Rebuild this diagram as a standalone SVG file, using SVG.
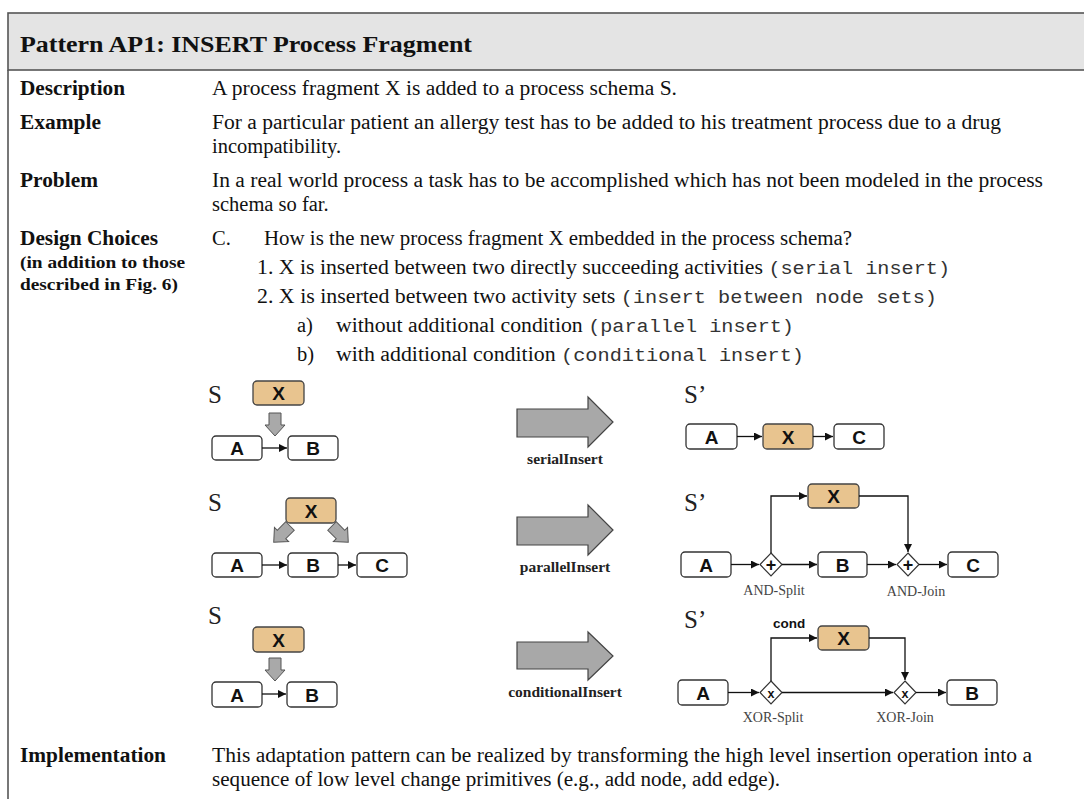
<svg xmlns="http://www.w3.org/2000/svg" width="1084" height="799" viewBox="0 0 1084 799">
<style>
.body{font-family:"Liberation Serif","Times New Roman",serif;font-size:20.5px;fill:#111}
.lbl{font-family:"Liberation Serif","Times New Roman",serif;font-size:20.5px;font-weight:bold;fill:#111}
.lbls{font-family:"Liberation Serif","Times New Roman",serif;font-size:17px;font-weight:bold;fill:#111}
.mono{font-family:"Liberation Mono","Courier New",monospace;font-size:19px;fill:#333}
.box{fill:#fff;stroke:#333;stroke-width:1.3}
.xbox{fill:#E8C48F;stroke:#444;stroke-width:1.3}
.nt{font-family:"Liberation Sans",Arial,sans-serif;font-size:19px;font-weight:bold;fill:#111;text-anchor:middle}
.s{font-family:"Liberation Serif","Times New Roman",serif;font-size:25px;fill:#222}
.garrow{fill:#A9A9A9;stroke:#555;stroke-width:1}
.big{fill:#A8A8A8;stroke:#444;stroke-width:1.2}
.op{font-family:"Liberation Serif","Times New Roman",serif;font-size:15.5px;font-weight:bold;fill:#222;text-anchor:middle}
.gw{fill:#fff;stroke:#333;stroke-width:1.2}
.gwt{font-family:"Liberation Sans",Arial,sans-serif;font-weight:bold;fill:#111;text-anchor:middle}
.gl{font-family:"Liberation Serif","Times New Roman",serif;font-size:14px;fill:#444;text-anchor:middle}
.edge{fill:none;stroke:#111;stroke-width:1.3;marker-end:url(#ah)}
</style>
<defs>
<marker id="ah" markerUnits="userSpaceOnUse" markerWidth="9" markerHeight="8" refX="8" refY="4" orient="auto">
<path d="M0,0 L8,4 L0,8 Z" fill="#111"/>
</marker>
<path id="blk" d="M-6,0 L6,0 L6,12 L10,12 L0,23 L-10,12 L-6,12 Z"/>
</defs>

<g id="frame">
<rect x="8" y="13" width="1090" height="57" fill="#E4E4E4" stroke="#555" stroke-width="1.6"/>
<line x1="8" y1="70" x2="8" y2="799" stroke="#555" stroke-width="1.6"/>
<text x="20" y="52" font-family="Liberation Serif,Times New Roman,serif" font-size="24px" font-weight="bold" fill="#111" textLength="452" lengthAdjust="spacingAndGlyphs">Pattern AP1: INSERT Process Fragment</text>
</g>

<g id="text">
<text class="lbl" x="20" y="95" textLength="105" lengthAdjust="spacingAndGlyphs">Description</text>
<text class="body" x="212" y="95" textLength="465" lengthAdjust="spacingAndGlyphs">A process fragment X is added to a process schema S.</text>
<text class="lbl" x="20" y="129" textLength="81" lengthAdjust="spacingAndGlyphs">Example</text>
<text class="body" x="212" y="129" textLength="789" lengthAdjust="spacingAndGlyphs">For a particular patient an allergy test has to be added to his treatment process due to a drug</text>
<text class="body" x="212" y="153">incompatibility.</text>
<text class="lbl" x="20" y="187" textLength="78" lengthAdjust="spacingAndGlyphs">Problem</text>
<text class="body" x="212" y="187" textLength="831" lengthAdjust="spacingAndGlyphs">In a real world process a task has to be accomplished which has not been modeled in the process</text>
<text class="body" x="212" y="211">schema so far.</text>
<text class="lbl" x="20" y="245" textLength="138" lengthAdjust="spacingAndGlyphs">Design Choices</text>
<text class="lbls" x="20" y="268" textLength="165" lengthAdjust="spacingAndGlyphs">(in addition to those</text>
<text class="lbls" x="20" y="290" textLength="158" lengthAdjust="spacingAndGlyphs">described in Fig. 6)</text>
<text class="body" x="212" y="245">C.</text>
<text class="body" x="264" y="245" textLength="588" lengthAdjust="spacingAndGlyphs">How is the new process fragment X embedded in the process schema?</text>
<text class="body" x="257" y="274" textLength="693" lengthAdjust="spacingAndGlyphs">1. X is inserted between two directly succeeding activities <tspan class="mono">(serial insert)</tspan></text>
<text class="body" x="257" y="303" textLength="680" lengthAdjust="spacingAndGlyphs">2. X is inserted between two activity sets <tspan class="mono">(insert between node sets)</tspan></text>
<text class="body" x="297" y="332">a)</text>
<text class="body" x="336" y="332" textLength="458" lengthAdjust="spacingAndGlyphs">without additional condition <tspan class="mono">(parallel insert)</tspan></text>
<text class="body" x="297" y="361">b)</text>
<text class="body" x="336" y="361" textLength="468" lengthAdjust="spacingAndGlyphs">with additional condition <tspan class="mono">(conditional insert)</tspan></text>
<text class="lbl" x="20" y="762" textLength="146" lengthAdjust="spacingAndGlyphs">Implementation</text>
<text class="body" x="212" y="762" textLength="820" lengthAdjust="spacingAndGlyphs">This adaptation pattern can be realized by transforming the high level insertion operation into a</text>
<text class="body" x="212" y="786" textLength="568" lengthAdjust="spacingAndGlyphs">sequence of low level change primitives (e.g., add node, add edge).</text>
</g>

<!-- Row 1 left: serial insert source -->
<g id="r1-left">
<text class="s" x="208" y="403">S</text>
<g id="r1l-X"><rect class="xbox" x="253" y="381" width="51" height="24" rx="4"/><text class="nt" x="278.5" y="400">X</text></g>
<use href="#blk" class="garrow" transform="translate(275,413)"/>
<g id="r1l-A"><rect class="box" x="212" y="436" width="50" height="24" rx="4"/><text class="nt" x="237" y="455">A</text></g>
<g id="r1l-B"><rect class="box" x="288" y="436" width="50" height="24" rx="4"/><text class="nt" x="313" y="455">B</text></g>
</g>

<!-- Row 2 left: parallel insert source -->
<g id="r2-left">
<text class="s" x="208" y="511">S</text>
<g id="r2l-X"><rect class="xbox" x="286" y="498" width="50" height="25" rx="4"/><text class="nt" x="311" y="518">X</text></g>
<use href="#blk" class="garrow" transform="translate(290,526) rotate(45)"/>
<use href="#blk" class="garrow" transform="translate(332,526) rotate(-45)"/>
<g id="r2l-A"><rect class="box" x="212" y="553" width="50" height="24" rx="4"/><text class="nt" x="237" y="572">A</text></g>
<g id="r2l-B"><rect class="box" x="288" y="553" width="50" height="24" rx="4"/><text class="nt" x="313" y="572">B</text></g>
<g id="r2l-C"><rect class="box" x="357" y="553" width="50" height="24" rx="4"/><text class="nt" x="382" y="572">C</text></g>
</g>

<!-- Row 3 left: conditional insert source -->
<g id="r3-left">
<text class="s" x="208" y="624">S</text>
<g id="r3l-X"><rect class="xbox" x="253" y="627" width="51" height="25" rx="4"/><text class="nt" x="278.5" y="647">X</text></g>
<use href="#blk" class="garrow" transform="translate(275,658)"/>
<g id="r3l-A"><rect class="box" x="212" y="682" width="50" height="25" rx="4"/><text class="nt" x="237" y="702">A</text></g>
<g id="r3l-B"><rect class="box" x="287" y="682" width="50" height="25" rx="4"/><text class="nt" x="312" y="702">B</text></g>
</g>

<!-- Transformation arrows -->
<g id="op-serial">
<path class="big" d="M517,409 L588,409 L588,397 L613,422 L588,447 L588,437 L517,437 Z"/>
<text class="op" x="565" y="464">serialInsert</text>
</g>
<g id="op-parallel">
<path class="big" d="M517,517 L588,517 L588,505 L613,530 L588,555 L588,545 L517,545 Z"/>
<text class="op" x="565" y="572">parallelInsert</text>
</g>
<g id="op-conditional">
<path class="big" d="M517,642 L588,642 L588,632 L613,656 L588,680 L588,669 L517,669 Z"/>
<text class="op" x="565" y="697">conditionalInsert</text>
</g>

<!-- Row 1 right -->
<g id="r1-right">
<text class="s" x="684" y="403">S’</text>
<g id="r1r-A"><rect class="box" x="686" y="424" width="51" height="25" rx="4"/><text class="nt" x="711.5" y="444">A</text></g>
<g id="r1r-X"><rect class="xbox" x="763" y="424" width="50" height="25" rx="4"/><text class="nt" x="788" y="444">X</text></g>
<g id="r1r-C"><rect class="box" x="834" y="424" width="50" height="25" rx="4"/><text class="nt" x="859" y="444">C</text></g>
</g>

<!-- Row 2 right -->
<g id="r2-right">
<text class="s" x="684" y="511">S’</text>
<g id="r2r-X"><rect class="xbox" x="808" y="484" width="51" height="24" rx="4"/><text class="nt" x="833.5" y="503">X</text></g>
<g id="r2r-A"><rect class="box" x="681" y="552" width="50" height="25" rx="4"/><text class="nt" x="706" y="572">A</text></g>
<g id="r2r-split"><path class="gw" d="M771,553 L782,564.5 L771,576 L760,564.5 Z"/><text class="gwt" x="771" y="571" font-size="18px">+</text><text class="gl" x="774" y="595">AND-Split</text></g>
<g id="r2r-B"><rect class="box" x="818" y="552" width="49" height="25" rx="4"/><text class="nt" x="842.5" y="572">B</text></g>
<g id="r2r-join"><path class="gw" d="M908,553 L919,564.5 L908,576 L897,564.5 Z"/><text class="gwt" x="908" y="571" font-size="18px">+</text><text class="gl" x="916" y="596">AND-Join</text></g>
<g id="r2r-C"><rect class="box" x="948" y="552" width="50" height="25" rx="4"/><text class="nt" x="973" y="572">C</text></g>
</g>

<!-- Row 3 right -->
<g id="r3-right">
<text class="s" x="684" y="628">S’</text>
<text x="773" y="628" font-family="Liberation Sans,Arial,sans-serif" font-size="13.5px" font-weight="bold" fill="#111">cond</text>
<g id="r3r-X"><rect class="xbox" x="818" y="626" width="51" height="24" rx="4"/><text class="nt" x="843.5" y="645">X</text></g>
<g id="r3r-A"><rect class="box" x="678" y="680" width="50" height="25" rx="4"/><text class="nt" x="703" y="700">A</text></g>
<g id="r3r-split"><path class="gw" d="M771,681 L782,692.5 L771,704 L760,692.5 Z"/><text class="gwt" x="771" y="697.5" font-size="12.5px">x</text><text class="gl" x="773" y="722">XOR-Split</text></g>
<g id="r3r-join"><path class="gw" d="M905,681 L916,692.5 L905,704 L894,692.5 Z"/><text class="gwt" x="905" y="697.5" font-size="12.5px">x</text><text class="gl" x="905" y="722">XOR-Join</text></g>
<g id="r3r-B"><rect class="box" x="947" y="680" width="50" height="25" rx="4"/><text class="nt" x="972" y="700">B</text></g>
</g>

<g id="connectors">
<path class="edge" d="M262,448 L287,448"/>
<path class="edge" d="M262,565 L287,565"/>
<path class="edge" d="M338,565 L356,565"/>
<path class="edge" d="M262,694 L286,694"/>
<path class="edge" d="M737,436.5 L762,436.5"/>
<path class="edge" d="M813,436.5 L833,436.5"/>
<path class="edge" d="M731,564.5 L759,564.5"/>
<path class="edge" d="M782,564.5 L817,564.5"/>
<path class="edge" d="M867,564.5 L896,564.5"/>
<path class="edge" d="M919,564.5 L947,564.5"/>
<path class="edge" d="M771,553 L771,496 L807,496"/>
<path class="edge" d="M859,496 L908,496 L908,552"/>
<path class="edge" d="M728,692.5 L759,692.5"/>
<path class="edge" d="M782,692.5 L893,692.5"/>
<path class="edge" d="M916,692.5 L946,692.5"/>
<path class="edge" d="M771,681 L771,638 L817,638"/>
<path class="edge" d="M869,638 L905,638 L905,680"/>
</g>
</svg>
